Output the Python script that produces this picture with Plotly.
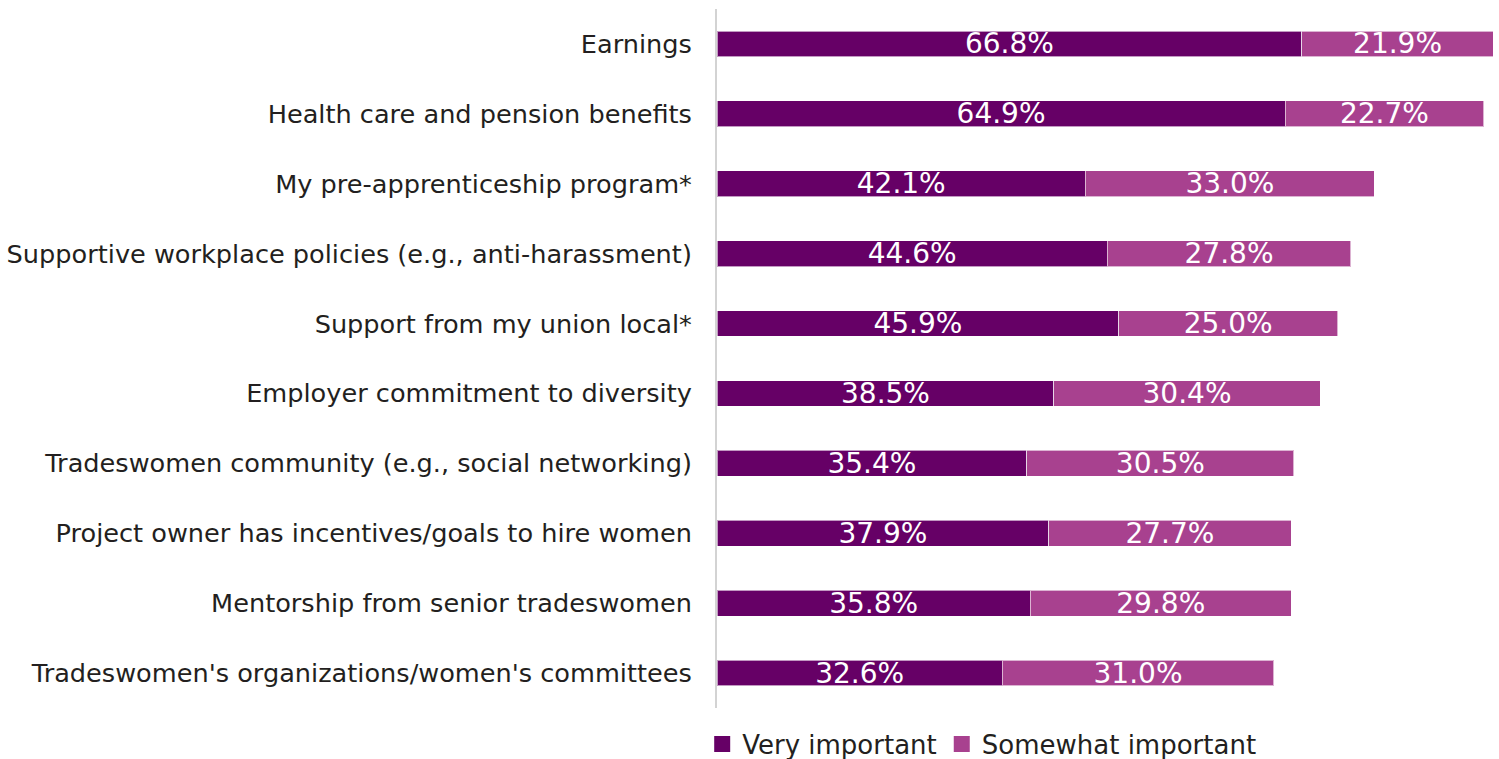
import plotly.graph_objects as go

categories = [
    "Earnings",
    "Health care and pension benefits",
    "My pre-apprenticeship program*",
    "Supportive workplace policies (e.g., anti-harassment)",
    "Support from my union local*",
    "Employer commitment to diversity",
    "Tradeswomen community (e.g., social networking)",
    "Project owner has incentives/goals to hire women",
    "Mentorship from senior tradeswomen",
    "Tradeswomen's organizations/women's committees",
]
very_important = [66.8, 64.9, 42.1, 44.6, 45.9, 38.5, 35.4, 37.9, 35.8, 32.6]
somewhat_important = [21.9, 22.7, 33.0, 27.8, 25.0, 30.4, 30.5, 27.7, 29.8, 31.0]

FONT = "DejaVu Sans"
DARK = "#660066"
LIGHT = "#A8418F"
INK = "#231f20"

fig = go.Figure()

series = [
    ("Very important", very_important, DARK),
    ("Somewhat important", somewhat_important, LIGHT),
]

for name, vals, color in series:
    fig.add_trace(
        go.Bar(
            y=categories,
            x=vals,
            name=name,
            orientation="h",
            marker=dict(color=color, line=dict(color="rgba(255,255,255,0.6)", width=1)),
            text=[f"{v:.1f}%" for v in vals],
            textposition="inside",
            insidetextanchor="middle",
            constraintext="none",
            textfont=dict(family=FONT, size=28, color="white"),
            hoverinfo="skip",
            showlegend=False,
        )
    )

# legend entries with bigger square swatches
for name, vals, color in series:
    fig.add_trace(
        go.Scatter(
            x=[None],
            y=[None],
            mode="markers",
            name=name,
            marker=dict(symbol="square", size=16, color=color, line=dict(width=0)),
        )
    )

fig.update_layout(
    barmode="stack",
    bargap=0.63,
    width=1499,
    height=759,
    margin=dict(l=717, r=3, t=9, b=51),
    plot_bgcolor="white",
    paper_bgcolor="white",
    font=dict(family=FONT, size=26, color=INK),
    legend=dict(
        orientation="h",
        x=-0.019,
        xanchor="left",
        xref="paper",
        yref="container",
        y=(759 - 744) / 759,
        yanchor="middle",
        font=dict(family=FONT, size=26, color=INK),
        itemsizing="trace",
        traceorder="normal",
    ),
    showlegend=True,
)

fig.update_xaxes(range=[0, 89], visible=False, fixedrange=True)
fig.update_yaxes(
    categoryorder="array",
    categoryarray=categories[::-1],
    automargin=False,
    showline=True,
    linecolor="#d3d3d3",
    linewidth=2,
    showgrid=False,
    zeroline=False,
    ticks="",
    ticklabelstandoff=18,
    tickfont=dict(family=FONT, size=25.6, color=INK),
)

fig.write_html(
    "out.html",
    config={"displayModeBar": False},
    post_script="document.body.style.margin='0';",
)
